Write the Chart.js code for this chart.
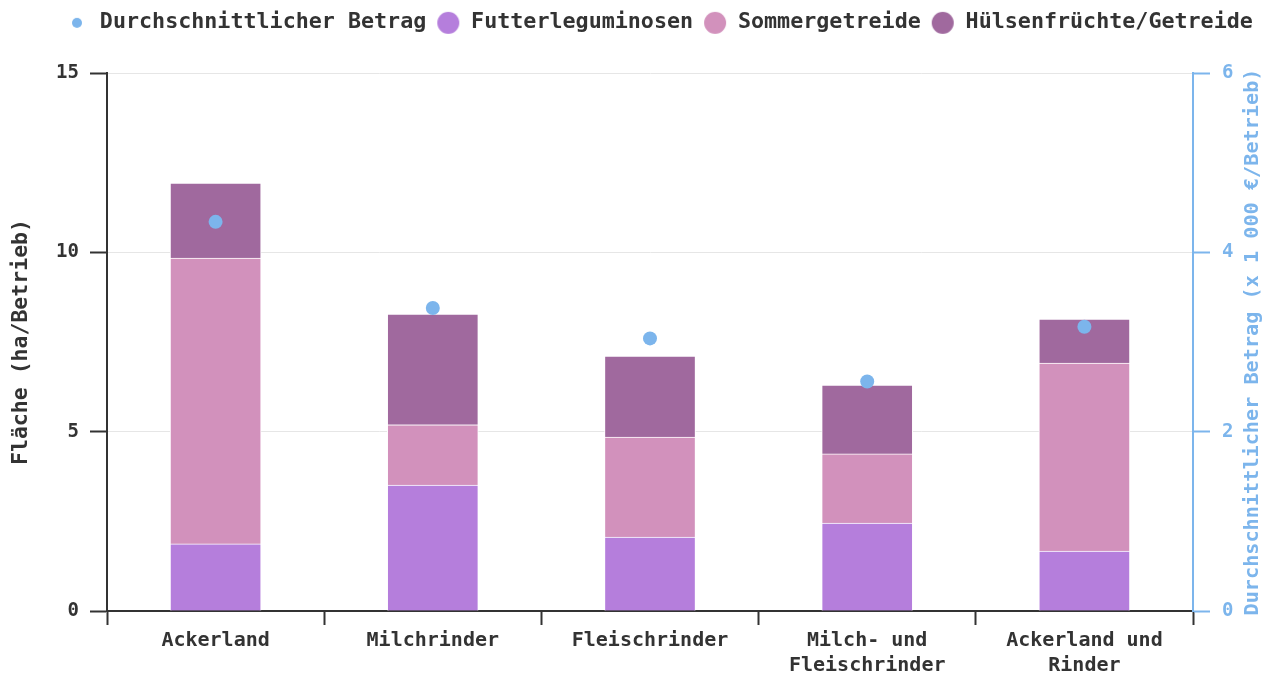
<!DOCTYPE html>
<html>
<head>
<meta charset="utf-8">
<script src="https://cdn.jsdelivr.net/npm/chart.js@4"></script>
<style>
html,body{margin:0;padding:0;background:#fff;}
#wrap{width:1266px;height:673px;}
</style>
</head>
<body>
<div id="wrap"><canvas id="c" width="1266" height="673"></canvas></div>
<script>
const categories = ["Ackerland", "Milchrinder", "Fleischrinder", ["Milch- und", "Fleischrinder"], ["Ackerland und", "Rinder"]];
const futterleguminosen = [1.87, 3.51, 2.06, 2.45, 1.67];
const sommergetreide = [7.97, 1.68, 2.79, 1.93, 5.24];
const huelsenfruechte = [2.09, 3.09, 2.26, 1.92, 1.23];
const durchschnittBetrag = [4.34, 3.38, 3.04, 2.56, 3.17];
const leftTicks = [0, 5, 10, 15];
const rightTicks = [0, 2, 4, 6];

const FONT = "'DejaVu Sans Mono', monospace";
const TXT = '#333333';
const BLUE = '#7cb5ec';
const C_FUTTER = '#b57edc';
const C_SOMMER = '#d291bc';
const C_HUELSEN = '#a0699e';
const RIGHT_TITLE = 'Durchschnittlicher Betrag (x 1 000 €/Betrieb)';

function dot(color, r) {
  const s = 24;
  const cv = document.createElement('canvas');
  cv.width = s; cv.height = s;
  const g = cv.getContext('2d');
  g.fillStyle = color;
  g.beginPath(); g.arc(s/2, s/2, r, 0, Math.PI*2); g.fill();
  return cv;
}
const legendDots = [dot(BLUE, 5), dot(C_FUTTER, 11), dot(C_SOMMER, 11), dot(C_HUELSEN, 11)];

const layoutTweaks = {
  id: 'layoutTweaks',
  beforeInit(chart) {
    const lg = chart.legend;
    if (lg) {
      const orig = lg.fit;
      lg.fit = function () { orig.call(this); this.height = 73; };
    }
  },
  afterLayout(chart) {
    if (chart.legend) { chart.legend.left = 55; chart.legend.right = 1320; chart.legend.top = 2; }
  },
  afterDraw(chart) {
    const ctx = chart.ctx;
    const a = chart.chartArea;
    ctx.save();
    ctx.translate(1253, (a.top + a.bottom) / 2);
    ctx.rotate(-Math.PI / 2);
    ctx.font = "bold 20.2px 'DejaVu Sans Mono', monospace";
    ctx.fillStyle = BLUE;
    ctx.textAlign = 'center';
    ctx.textBaseline = 'middle';
    ctx.fillText(RIGHT_TITLE, 0, 0);
    ctx.restore();
  }
};

new Chart(document.getElementById('c'), {
  data: {
    labels: categories,
    datasets: [
      { type: 'line', label: 'Durchschnittlicher Betrag', data: durchschnittBetrag, yAxisID: 'y1',
        showLine: false, pointRadius: 7, pointHoverRadius: 7, pointBackgroundColor: BLUE, pointBorderWidth: 0,
        backgroundColor: BLUE, borderColor: BLUE, order: 0 },
      { type: 'bar', label: 'Futterleguminosen', data: futterleguminosen, backgroundColor: C_FUTTER,
        borderColor: '#ffffff', borderWidth: 1, yAxisID: 'y', order: 1, barThickness: 91 },
      { type: 'bar', label: 'Sommergetreide', data: sommergetreide, backgroundColor: C_SOMMER,
        borderColor: '#ffffff', borderWidth: 1, yAxisID: 'y', order: 2, barThickness: 91 },
      { type: 'bar', label: 'Hülsenfrüchte/Getreide', data: huelsenfruechte, backgroundColor: C_HUELSEN,
        borderColor: '#ffffff', borderWidth: 1, yAxisID: 'y', order: 3, barThickness: 91 }
    ]
  },
  plugins: [layoutTweaks],
  options: {
    responsive: false,
    animation: false,
    layout: { padding: 0 },
    plugins: {
      tooltip: { enabled: false },
      legend: {
        position: 'top',
        align: 'start',
        labels: {
          usePointStyle: true,
          pointStyleWidth: 24,
          boxWidth: 22, boxHeight: 22,
          padding: 10,
          color: TXT,
          font: { family: FONT, size: 21.7, weight: 'bold' },
          generateLabels: (chart) => {
            const base = Chart.defaults.plugins.legend.labels.generateLabels(chart);
            return base.map((it, i) => Object.assign(it, { pointStyle: legendDots[i], lineWidth: 0 }));
          }
        }
      }
    },
    scales: {
      x: {
        stacked: true,
        offset: true,
        afterFit: (ax) => { ax.height = 62; },
        grid: { offset: true, drawOnChartArea: false, tickLength: 14, tickWidth: 2, tickColor: TXT },
        border: { color: TXT, width: 2 },
        ticks: { color: TXT, font: { family: FONT, size: 20, weight: 'bold', lineHeight: 1.25 }, padding: 3, maxRotation: 0, autoSkip: false }
      },
      y: {
        stacked: true,
        position: 'left',
        min: 0, max: 15,
        afterBuildTicks: (ax) => { ax.ticks = leftTicks.map(v => ({ value: v })); },
        afterFit: (ax) => { ax.width = 107; },
        grid: { color: '#e6e6e6', lineWidth: 1, tickLength: 17, tickWidth: 2, tickColor: TXT },
        border: { color: TXT, width: 2 },
        ticks: { color: TXT, font: { family: FONT, size: 19, weight: 'bold' }, padding: 11 },
        title: { display: true, text: 'Fläche (ha/Betrieb)', color: TXT, font: { family: FONT, size: 21.5, weight: 'bold' }, padding: { top: 9, bottom: 10 } }
      },
      y1: {
        position: 'right',
        min: 0, max: 6,
        afterBuildTicks: (ax) => { ax.ticks = rightTicks.map(v => ({ value: v })); },
        afterFit: (ax) => { ax.width = 73; },
        grid: { drawOnChartArea: false, tickLength: 17, tickWidth: 2, tickColor: BLUE },
        border: { color: BLUE, width: 2 },
        ticks: { color: BLUE, font: { family: FONT, size: 19, weight: 'bold' }, padding: 12 }
      }
    }
  }
});
</script>
</body>
</html>
